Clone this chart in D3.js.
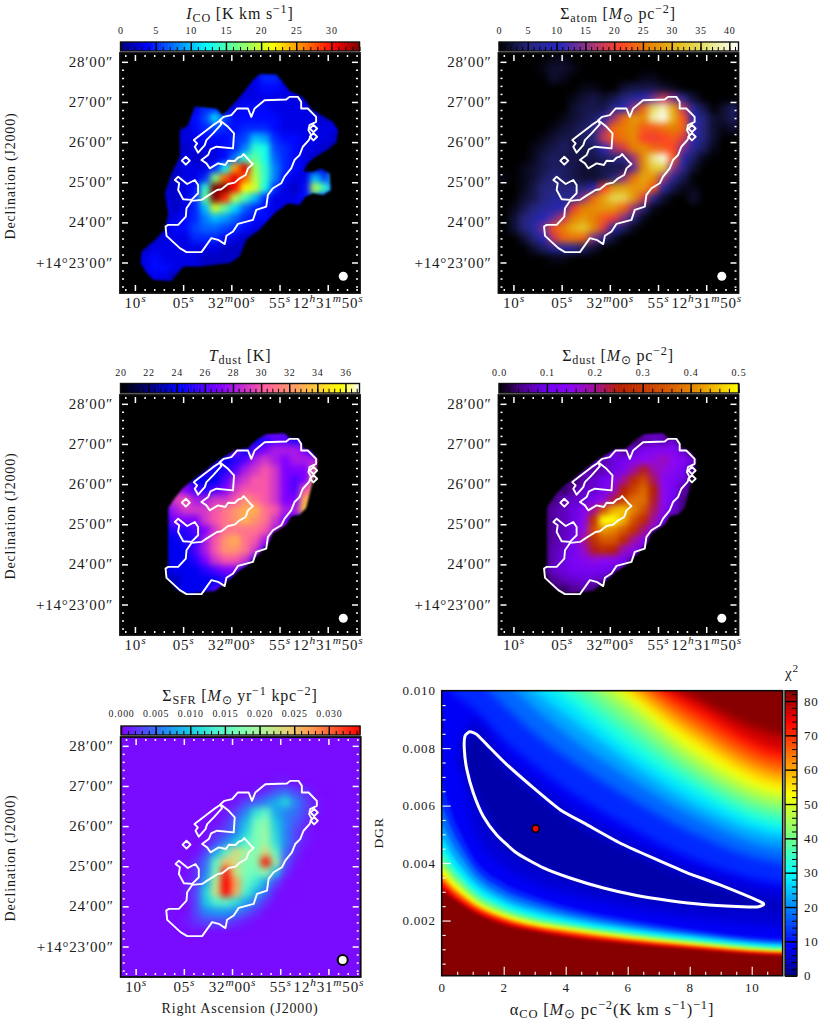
<!DOCTYPE html>
<html lang="en">
<head>
<meta charset="utf-8">
<title>Gas, dust and star formation maps</title>
<script src="https://d3js.org/d3.v7.min.js"></script>
<style>
    body { margin: 0; background: #fff; }
    text { font-family: "Liberation Serif", serif; fill: #1a1a1a; letter-spacing: 0.8px; }
</style>
</head>
<body>
<script>
// map values on a 24 x 24 grid, top row first, trailing empty cells left out
const icoGrid = [
[],[],
[0,0,0,0,0,0,0,0,0,0,0,0,0,3,5,5,2],
[0,0,0,0,0,0,0,0,0,0,0,0,2,3,4,4,3,2],
[0,0,0,0,0,0,0,0,0,0,0,2,3,3,3,3,3,3,2],
[0,0,0,0,0,0,0,3,5,5,3,3,4,4,4,3,3,3,3,2],
[0,0,0,0,0,0,0,4,6,11,6,4,4,4,4,4,3,3,3,3,2],
[0,0,0,0,0,0,2,4,5,6,5,4,5,5,5,4,3,3,3,3,3,3],
[0,0,0,0,0,0,3,3,4,4,4,5,6,10,9,5,4,4,3,3,3,2],
[0,0,0,0,0,0,2,3,3,3,4,5,8,14,13,6,5,4,3,3,2],
[0,0,0,0,0,2,3,2,2,3,4,8,14,16,13,7,5,4,3,2],
[0,0,0,0,0,2,3,3,3,5,12,25,31,18,14,8,5,4,3,2,2],
[0,0,0,0,1,2,3,3,5,17,27,31,27,19,14,8,4,3,3,10,6],
[0,0,0,0,0,2,3,4,14,34,37,30,22,20,13,5,3,2,4,19,14],
[0,0,0,0,0,2,3,5,16,35,29,19,15,10,5,3,3,3,4,8,5],
[0,0,0,0,0,2,3,5,10,20,16,11,7,5,4,3,3,3,3],
[0,0,0,0,2,3,4,5,8,10,9,7,5,4,4,3,1],
[0,0,0,2,3,4,4,6,7,7,6,5,4,3,2],
[0,0,0,2,3,3,3,5,5,5,4,3,2,1],
[0,0,2,3,3,3,3,3,3,3,2,2,2],
[0,0,3,4,3,3,3,3,2,2,2,2],
[0,0,3,4,4,3,3,3,2,2,2],
[0,0,0,3,3,1],
[]
];
const atomGrid = [
[0,0,0,0,0,1,1],
[0,0,0,0,1,2,2,1],
[0,0,0,0,0,2,1,0,0,0,0,0,0,0,1,1],
[0,0,0,0,0,0,0,0,1,1,0,0,2,3,3,3,2,1],
[0,0,0,0,0,0,0,1,2,3,2,3,5,7,10,14,18,14,6,2],
[0,0,0,0,0,0,0,2,3,3,3,6,10,15,24,35,39,29,17,7,3,0,2,4],
[0,0,0,0,0,0,1,2,3,4,8,16,24,28,27,38,41,30,22,10,5,2,2,4],
[0,0,0,0,0,1,2,3,4,6,15,24,26,27,23,23,25,26,24,11,5,2,1,2],
[0,0,0,0,1,2,3,3,4,5,18,23,25,27,21,20,21,23,19,9,5,2],
[0,0,0,1,2,3,4,3,3,4,10,16,19,26,27,24,23,21,14,7,4,1],
[0,0,0,1,3,4,3,3,3,3,4,5,6,16,27,37,41,23,9,4,1],
[0,0,1,2,3,4,4,3,2,2,3,3,3,13,27,33,33,15,6,2],
[1,0,1,2,4,5,4,3,2,2,3,5,15,25,29,27,16,7,3],
[0,0,1,3,5,5,5,5,5,10,21,28,29,28,28,22,8,3,1,1],
[0,0,2,3,5,7,6,7,15,24,29,34,34,28,19,7,2,0,0,2],
[0,1,3,5,7,8,10,20,26,27,28,28,24,16,5,1],
[0,2,5,7,10,13,18,26,28,26,23,20,15,6,1],
[0,2,5,8,14,22,26,30,32,27,19,9,4,1],
[0,0,2,5,10,18,24,25,24,14,6,2],
[0,0,0,2,4,7,8,7,4,2],
[0,0,0,0,0,1,1],
[],[],[]
];
const tdustGrid = [
[],[],[],[],
[0,0,0,0,0,0,0,0,0,0,0,0,0,24,25,26,26,25],
[0,0,0,0,0,0,0,0,0,0,0,0,24,26,27,28,28,28,27,24],
[0,0,0,0,0,0,0,0,0,0,24,25,26,28,29,28,27,28,28,28],
[0,0,0,0,0,0,0,0,0,24,25,26,28,29,30,29,27,27,27,30],
[0,0,0,0,0,0,0,24,24,24,26,28,29,30,30,29,27,26,27,32],
[0,0,0,0,0,0,27,26,25,26,27,29,30,30,30,29,27,26,30],
[0,0,0,0,0,29,30,28,28,29,29,30,32,31,30,29,27,27,33],
[0,0,0,0,26,28,29,29,29,30,31,32,33,33,31,30,28,28,34],
[0,0,0,0,0,27,27,27,29,30,31,32,33,32,31,29,27,26],
[0,0,0,0,0,25,25,26,27,29,31,31,31,31,30,28],
[0,0,0,0,0,24,25,25,28,30,32,33,31,30,28],
[0,0,0,0,0,24,24,26,28,30,32,32,31,29,26],
[0,0,0,0,0,24,24,25,27,29,30,30,29,26],
[0,0,0,0,0,24,24,24,25,26,27,27,25],
[0,0,0,0,0,23,24,24,24,24,25,25],
[0,0,0,0,0,0,24,24,24,26,27],
[],[],[],[]
];
const sdustGrid = [
[],[],[],[],
[0,0,0,0,0,0,0,0,0,0,0,0,0,.03,.05,.07,.06],
[0,0,0,0,0,0,0,0,0,0,0,0,.05,.08,.12,.13,.14,.13,.08,.03],
[0,0,0,0,0,0,0,0,0,0,.06,.09,.1,.13,.15,.16,.18,.15,.13,.08],
[0,0,0,0,0,0,0,0,0,.05,.07,.09,.12,.19,.24,.19,.16,.14,.11,.05],
[0,0,0,0,0,0,0,.03,.06,.08,.1,.14,.2,.27,.33,.22,.14,.12,.09,.03],
[0,0,0,0,0,0,.03,.06,.08,.08,.11,.17,.25,.32,.37,.25,.15,.11,.06],
[0,0,0,0,0,.04,.07,.08,.08,.12,.16,.23,.31,.38,.38,.24,.15,.1,.04],
[0,0,0,0,.03,.06,.07,.09,.13,.2,.34,.44,.46,.4,.34,.22,.14,.08],
[0,0,0,0,.03,.06,.07,.09,.14,.28,.55,.58,.44,.34,.27,.19,.11,.04],
[0,0,0,0,.03,.06,.07,.09,.16,.33,.42,.4,.35,.28,.21,.13,.05],
[0,0,0,0,.03,.06,.07,.1,.2,.28,.35,.35,.27,.2,.14,.06],
[0,0,0,0,.03,.07,.08,.11,.17,.24,.27,.25,.18,.14,.08],
[0,0,0,0,.03,.07,.09,.12,.13,.16,.15,.14,.11,.06],
[0,0,0,0,.04,.08,.09,.11,.11,.11,.1,.09,.05],
[0,0,0,0,.02,.05,.07,.08,.09,.08,.07,.03],
[0,0,0,0,0,0,.03,.05,.05,.04,.02],
[],[],[],[]
];
const sfrGrid = [
[],[],[],[],
[0,0,0,0,0,0,0,0,0,0,0,0,0,0,0,.001,.001],
[0,0,0,0,0,0,0,0,0,0,0,0,0,.001,.002,.004,.005,.003,.002],
[0,0,0,0,0,0,0,0,0,0,0,.001,.003,.004,.006,.008,.011,.006,.003,.001],
[0,0,0,0,0,0,0,0,0,0,.001,.003,.006,.012,.015,.008,.006,.005,.003,.001],
[0,0,0,0,0,0,0,0,0,0,.002,.005,.009,.016,.018,.01,.006,.004,.002],
[0,0,0,0,0,0,0,0,0,.002,.003,.006,.011,.017,.019,.011,.006,.003,.001],
[0,0,0,0,0,0,0,0,0,.003,.006,.01,.014,.017,.019,.012,.006,.003,.001],
[0,0,0,0,0,0,0,0,.003,.008,.015,.023,.02,.017,.023,.015,.005,.002],
[0,0,0,0,0,0,0,.002,.005,.015,.025,.023,.017,.018,.034,.019,.004,.001],
[0,0,0,0,0,0,0,.002,.006,.017,.033,.022,.017,.016,.019,.01,.002],
[0,0,0,0,0,0,.001,.002,.008,.021,.037,.027,.016,.013,.008,.003],
[0,0,0,0,0,0,.001,.003,.011,.022,.036,.026,.014,.009,.005,.001],
[0,0,0,0,0,0,0,.003,.01,.014,.015,.012,.008,.005,.002],
[0,0,0,0,0,0,0,.003,.006,.007,.007,.006,.004,.002],
[0,0,0,0,0,0,.001,.002,.003,.003,.003,.002,.001],
[],[],[],[],[]
];
const sfrBackground = 0.0005;

// edge of the valid data, in map pixels
const icoEdge = [[40,8.2],[42,6.4],[47,6.4],[49,8.7],[51,11.4],[55,13.2],[58,17.2],[64,20.7],[65.6,23.2],[65.2,26.7],[63,28.7],[59,31.2],[56.5,33.2],[55.2,35.7],[58,35.7],[60.5,34.7],[63,36.2],[63.5,41.2],[61.2,42.7],[58,42.2],[55.8,43.2],[54,45.7],[50.5,45.2],[46.5,48.2],[42,53.2],[38,56.2],[36,61.2],[33,63.2],[24,64.2],[19,64.2],[15.5,68.7],[10,68.2],[8,66.2],[6.2,63.2],[6.5,59.7],[10,56.7],[13.5,53.2],[14.5,48.2],[13.5,42.2],[15.5,36.2],[18,31.2],[18,23.2],[20.5,21.7],[22.5,16.2],[29,16.7],[31,18.7],[36,13.2]];
const dustEdge = [[44,11.8],[49.5,11.5],[51,13],[54,13.2],[55,16],[57.5,16.8],[59.5,19.5],[59,22.5],[58,26],[57,30],[56,34],[54,36],[51.5,36.5],[50,39],[46,41.5],[44.5,45],[42,47.5],[40.5,49],[38,51.5],[35.5,53],[33.5,55],[31,57],[28.5,59],[26,59.2],[20,59.8],[17,58.5],[14.5,55.5],[13.7,53],[14.5,51],[14.5,41],[14.5,34],[16.5,31],[19,28],[22,25.5],[26,22.5],[29,20],[31.5,18.5],[35,16.5],[38.5,16],[41,13.5]];

// white outline, in map pixels
const outlineMain = [[13.7,52.2],[14.5,51.7],[17.5,51.7],[19.8,49.2],[20,46.7],[21.5,44.5],[24.5,44.2],[26,43.2],[29.2,41.2],[30.5,41],[32.5,39.4],[34.5,39],[36,37.7],[37.8,36.7],[38.5,34.7],[40,33.4],[39.2,32.7],[37.2,30.4],[36.5,31.2],[35.5,31.5],[34.5,32.5],[32.5,32.4],[31.7,33.7],[29.5,33.2],[27,34.7],[26,33.2],[24.5,32.2],[26.5,30.7],[27.2,29],[29,28.2],[34,28.7],[34.3,24.2],[32.5,22.2],[30,20.2],[31.2,19.2],[33.5,18.7],[35.2,16.7],[38.5,16.7],[39.5,19.2],[40.5,16.7],[43.5,14.2],[50,14],[51,13.2],[53.5,13.2],[54.5,14.7],[54.5,16.7],[56.5,16.7],[59,19.2],[59,20.7],[57,21.7],[56.7,23.2],[57.5,24.7],[56.8,26.2],[55,28.2],[54,30.7],[52.5,32.2],[51.5,34.7],[49.5,37.2],[48.5,39.2],[46,40.7],[44.5,42.7],[44,46.2],[41,47.2],[40,50.2],[35.5,51.4],[34,53.7],[32,55],[31.5,57.5],[29.5,56.2],[27.5,55.7],[24.5,59.9],[20,59.9],[18,58.7],[14,55]];
const outlineBean = [[16.5,38.2],[17.5,37.2],[20.2,39.4],[22.5,38.2],[23.5,39.7],[23.5,42.2],[21.5,44.2],[19,44],[17.5,41.2],[17.8,39.2]];
const outlineLobe = [[22.2,26.2],[28,21.7],[30,20.4],[30.5,21.4],[28,24.2],[26,26.2],[25.5,27.7],[23.5,30],[22.5,28.2],[23.2,27.2]];
const outlineDiamondA = [[19.8,31.2],[21,32.4],[19.8,33.6],[18.6,32.4]];
const outlineDiamondB = [[58.2,21.6],[59.3,22.7],[58.2,23.8],[57.1,22.7]];
const outlineDiamondC = [[58.2,24.1],[59.3,25.2],[58.2,26.3],[57.1,25.2]];

// sky axes: RA in seconds past 12h31m, Dec in arcmin past 14 deg
const raTicks = [70, 65, 60, 55, 50];
const raMinor = [71,69,68,67,66,64,63,62,61,59,58,57,56,54,53,52,51,49,48,47];
const decTicks = [28, 27, 26, 25, 24, 23];
const decMinor = [27.8,27.6,27.4,27.2,26.8,26.6,26.4,26.2,25.8,25.6,25.4,25.2,24.8,24.6,24.4,24.2,23.8,23.6,23.4,23.2,22.8,22.6,22.4];
const raTickLabels = [
    [["10","n"],["s","supi"]],
    [["05","n"],["s","supi"]],
    [["32","n"],["m","supi"],["00","n"],["s","supi"]],
    [["55","n"],["s","supi"]],
    [["12","n"],["h","supi"],["31","n"],["m","supi"],["50","n"],["s","supi"]]
];
const decTickLabels = [
    [["28","n"],["\u2032","prime"],["00","n"],["\u2033","prime"]],
    [["27","n"],["\u2032","prime"],["00","n"],["\u2033","prime"]],
    [["26","n"],["\u2032","prime"],["00","n"],["\u2033","prime"]],
    [["25","n"],["\u2032","prime"],["00","n"],["\u2033","prime"]],
    [["24","n"],["\u2032","prime"],["00","n"],["\u2033","prime"]],
    [["+14","n"],["\u00b0","prime"],["23","n"],["\u2032","prime"],["00","n"],["\u2033","prime"]]
];

// chi-square map: for every level, the DGR (x 1000) below and above which chi2 passes it
const alphaColumns = [-0.3, 0.5, 1, 2, 3, 4, 6, 8, 11.3];
const chiLevels = [80, 75, 70, 65, 60, 55, 50, 45, 40, 35, 30, 25, 20, 15, 10];
const chiLower = [
[3.19,2.66,2.31,1.85,1.62,1.44,1.19,1.00,.78],
[3.33,2.75,2.39,1.93,1.68,1.50,1.24,1.05,.82],
[3.48,2.84,2.47,2.00,1.73,1.56,1.29,1.09,.86],
[3.58,2.93,2.54,2.05,1.78,1.60,1.33,1.12,.88],
[3.69,3.01,2.60,2.10,1.82,1.65,1.37,1.15,.90],
[3.81,3.10,2.66,2.15,1.86,1.69,1.40,1.18,.92],
[3.94,3.19,2.72,2.20,1.91,1.73,1.44,1.21,.95],
[4.10,3.31,2.82,2.27,1.97,1.78,1.49,1.25,.98],
[4.28,3.44,2.92,2.35,2.03,1.84,1.53,1.29,1.01],
[4.50,3.60,3.05,2.44,2.11,1.90,1.58,1.33,1.05],
[4.80,3.77,3.19,2.55,2.20,1.97,1.64,1.38,1.09],
[5.20,4.05,3.40,2.70,2.33,2.08,1.72,1.45,1.14],
[5.70,4.40,3.65,2.87,2.48,2.20,1.81,1.52,1.20],
[6.35,4.80,3.92,3.07,2.65,2.34,1.92,1.60,1.27],
[7.25,5.28,4.23,3.30,2.84,2.50,2.05,1.70,1.35]
];
const chiUpper = [
[18.0,16.7,15.8,14.3,13.3,12.4,11.0,9.85,8.42],
[17.8,16.5,15.6,14.1,13.1,12.2,10.8,9.6,7.9],
[17.6,16.3,15.4,14.0,12.9,12.0,10.7,9.3,7.6],
[17.3,16.1,15.2,13.8,12.7,11.8,10.5,8.95,7.26],
[17.0,15.8,14.9,13.5,12.5,11.7,10.25,8.65,6.97],
[16.8,15.5,14.6,13.2,12.3,11.6,10.0,8.35,6.67],
[16.5,15.2,14.3,13.0,12.0,11.3,9.75,8.0,6.38],
[16.0,14.8,13.9,12.6,11.6,10.9,9.4,7.65,6.1],
[15.5,14.4,13.5,12.2,11.2,10.6,8.95,7.3,5.8],
[15.0,14.0,13.0,11.7,10.9,10.15,8.5,6.95,5.5],
[14.5,13.5,12.6,11.3,10.5,9.7,8.0,6.6,5.2],
[14.0,13.0,12.1,11.0,10.0,9.15,7.55,6.15,4.9],
[13.0,12.2,11.4,10.4,9.4,8.5,7.0,5.7,4.47],
[12.0,11.2,10.6,9.5,8.5,7.7,6.3,5.1,4.0],
[10.5,9.8,9.4,8.3,7.4,6.6,5.3,4.2,3.3]
];
// the valley floor closes inside the frame
const valleyLevels = [7, 4];
const valleyLower = [
[8.2,8.2,5.3,3.9,3.3,2.95,2.45,2.1,1.75],
[7.5,7.5,6.6,4.7,3.95,3.5,2.9,2.6,2.4]
];
const valleyUpper = [
[8.2,8.2,9.0,7.8,6.9,6.1,4.9,3.9,2.9],
[7.5,7.5,8.5,7.3,6.4,5.6,4.4,3.5,2.4]
];
const chiTop = 83;
const bestAlpha = 3.03;
const bestDgr = 5.2;
const fitAlpha = [.91,.75,.73,.81,1.02,1.34,1.77,2.42,3.28,4.14,5.22,6.29,7.37,8.44,9.52,10.16,10.38,10.27,8.98,7.9,6.83,5.75,4.68,3.82,2.96,2.1,1.45,1.13];
const fitDgr = [8.57,8.42,7.95,7.26,6.44,5.63,4.99,4.35,3.83,3.48,3.13,2.87,2.69,2.56,2.49,2.47,2.55,2.66,3.24,3.67,4.17,4.7,5.34,5.86,6.62,7.43,8.13,8.48];
const alphaTicks = [0, 2, 4, 6, 8, 10];
const alphaMinor = [.5,1,1.5,2.5,3,3.5,4.5,5,5.5,6.5,7,7.5,8.5,9,9.5,10.5];
const dgrTicks = [2, 4, 6, 8, 10];
const dgrMinor = [.5,1,1.5,2.5,3,3.5,4.5,5,5.5,6.5,7,7.5,8.5,9,9.5];
const dgrTickLabels = ["0.002", "0.004", "0.006", "0.008", "0.010"];

// colormaps, [position, colour]
const jetStops = [[0,"#000080"],[.11,"#0000ff"],[.36,"#00ffff"],[.5,"#7dff7a"],[.64,"#ffff00"],[.89,"#ff0000"],[1,"#800000"]];
const cmrStops = [[0,"#000000"],[.125,"#262680"],[.25,"#2626bf"],[.375,"#993380"],[.5,"#ff4026"],[.625,"#e68000"],[.75,"#e6bf1a"],[.875,"#e6e680"],[1,"#ffffff"]];
const gnuplot2Stops = [[0,"#000000"],[.25,"#0000ff"],[.42,"#8700ff"],[.6,"#ff5ca3"],[.8,"#ffc23d"],[.92,"#ffff00"],[1,"#ffffff"]];
const gnuplotStops = [[0,"#000000"],[.1,"#520096"],[.2,"#7202f2"],[.3,"#8c07f2"],[.4,"#a10f96"],[.5,"#b52000"],[.6,"#c53700"],[.7,"#d65700"],[.8,"#e38200"],[.9,"#f2ba00"],[1,"#ffff00"]];
const rainbowStops = [[0,"#8000ff"],[.1,"#4d4ffc"],[.2,"#1a96f2"],[.3,"#1acfe3"],[.4,"#4df2cf"],[.5,"#80ffb5"],[.6,"#b3f296"],[.7,"#e6cf73"],[.8,"#ff964f"],[.9,"#ff4f29"],[1,"#ff0000"]];

function colormap(stops, vmin, vmax) {
    return d3.scaleLinear()
        .domain(stops.map(s => vmin + (vmax - vmin) * s[0]))
        .range(stops.map(s => s[1]))
        .clamp(true);
}

const svg = d3.select("body").append("svg")
    .attr("width", 830)
    .attr("height", 1030);

const defs = svg.append("defs");
function addBlur(id, sd) {
    defs.append("filter").attr("id", id)
        .attr("x", "-10%").attr("y", "-10%").attr("width", "120%").attr("height", "120%")
        .attr("color-interpolation-filters", "sRGB")
        .append("feGaussianBlur").attr("stdDeviation", sd);
}
addBlur("blurSoft", 3.5);
addBlur("blurMask", 3.2);
addBlur("blurEdge", 0.8);
addBlur("blurChiWide", 4);
addBlur("blurChiNarrow", 1.7);

// text with sub and superscripts
function richText(sel, parts, size) {
    let shift = 0;
    parts.forEach(p => {
        const kind = p[1];
        const small = kind === "sup" || kind === "supi" || kind === "sub";
        const target = kind.startsWith("sup") ? -size * 0.38 : (kind === "sub" ? size * 0.2 : 0);
        sel.append("tspan")
            .attr("dy", target - shift)
            .style("font-size", (small ? size * 0.76 : size) + "px")
            .style("font-style", kind === "i" || kind === "supi" ? "italic" : "normal")
            .text(p[0]);
        shift = target;
    });
}

function addText(x, y, parts, size, anchor, rotate) {
    const t = svg.append("text")
        .attr("text-anchor", anchor || "middle")
        .attr("transform", "translate(" + x + "," + y + ")" + (rotate ? " rotate(" + rotate + ")" : ""));
    richText(t, parts, size);
    return t;
}

// horizontal colour bar with black ticks inside
function colorbar(opt) {
    const x = d3.scaleLinear().domain([opt.vmin, opt.vmax]).range([opt.x0, opt.x1]);
    const g = svg.append("g");
    const h = opt.h;
    const steps = d3.range(0, 160);
    const w = (opt.x1 - opt.x0) / steps.length;
    g.selectAll("rect.step").data(steps).join("rect")
        .attr("x", i => opt.x0 + i * w)
        .attr("y", opt.y)
        .attr("width", w + 0.6)
        .attr("height", h)
        .attr("fill", i => opt.cmap(opt.vmin + (opt.vmax - opt.vmin) * (i + 0.5) / steps.length));

    const bottom = g.append("g").attr("transform", "translate(0," + (opt.y + h) + ")");
    bottom.append("g").call(d3.axisTop(x).tickValues(opt.minor).tickSize(h * 0.45).tickFormat(""))
        .call(a => a.select(".domain").remove())
        .selectAll("line").attr("stroke", "#000").attr("stroke-width", 1);
    bottom.append("g").call(d3.axisTop(x).tickValues(opt.major).tickSize(h).tickFormat(""))
        .call(a => a.select(".domain").remove())
        .selectAll("line").attr("stroke", "#000").attr("stroke-width", 1.4);

    const labels = g.append("g").attr("transform", "translate(0," + opt.y + ")")
        .call(d3.axisTop(x).tickValues(opt.major).tickSize(0).tickFormat((d, i) => opt.labels[i]));
    labels.select(".domain").remove();
    labels.selectAll("text")
        .attr("y", opt.labelY - opt.y).attr("dy", 0)
        .style("font-size", opt.labelSize + "px")
        .style("font-family", "\"Liberation Serif\", serif");

    g.append("rect")
        .attr("x", opt.x0).attr("y", opt.y)
        .attr("width", opt.x1 - opt.x0).attr("height", h)
        .attr("fill", "none").attr("stroke", "#111").attr("stroke-width", 1.4);
}

// one sky map
function skyMap(opt) {
    const size = 240;
    const g = svg.append("g").attr("transform", "translate(" + opt.x + "," + opt.y + ")");
    const gridX = d3.scaleLinear().domain([0, 24]).range([0, size]);
    const gridY = d3.scaleLinear().domain([0, 24]).range([0, size]);
    const pixX = d3.scaleLinear().domain([0, 72.2]).range([0, size]);
    const pixY = d3.scaleLinear().domain([0, 72.2]).range([0, size]);
    const ra = d3.scaleLinear().domain([71.55, 46.65]).range([0, size]);
    const dec = d3.scaleLinear().domain([28.22, 22.24]).range([0, size]);
    const line = d3.line().x(d => pixX(d[0])).y(d => pixY(d[1])).curve(d3.curveLinearClosed);

    const clipId = "clip" + opt.id;
    g.append("clipPath").attr("id", clipId)
        .append("rect").attr("width", size).attr("height", size);

    g.append("rect").attr("width", size).attr("height", size).attr("fill", opt.background);

    const cells = [];
    opt.grid.forEach((row, r) => row.forEach((v, c) => { if (v) cells.push({ r: r, c: c, v: v }); }));
    const image = g.append("g").attr("clip-path", "url(#" + clipId + ")");
    let target = image;
    if (opt.edge) {
        // data stop at a sharp edge, so the colour is carried past it and cut there
        const maskId = "mask" + opt.id;
        g.append("mask").attr("id", maskId)
            .attr("maskUnits", "userSpaceOnUse")
            .attr("x", 0).attr("y", 0).attr("width", size).attr("height", size)
            .append("path").attr("d", line(opt.edge))
            .attr("fill", "#fff").attr("filter", "url(#blurEdge)");
        target = image.append("g").attr("mask", "url(#" + maskId + ")");
    }
    const blurred = target.append("g").attr("filter", "url(#" + opt.blur + ")");
    if (opt.edge) {
        blurred.selectAll("rect.halo").data(cells).join("rect")
            .attr("class", "halo")
            .attr("x", d => gridX(d.c))
            .attr("y", d => gridY(d.r))
            .attr("width", gridX(1))
            .attr("height", gridY(1))
            .attr("fill", d => opt.cmap(d.v))
            .attr("stroke", d => opt.cmap(d.v))
            .attr("stroke-width", 24);
    }
    blurred.selectAll("rect.cell").data(cells).join("rect")
        .attr("class", "cell")
        .attr("x", d => gridX(d.c))
        .attr("y", d => gridY(d.r))
        .attr("width", gridX(1) + 0.5)
        .attr("height", gridY(1) + 0.5)
        .attr("fill", d => opt.cmap(d.v));

    g.selectAll("path.outline")
        .data([outlineMain, outlineBean, outlineLobe, outlineDiamondA, outlineDiamondB, outlineDiamondC])
        .join("path")
        .attr("class", "outline")
        .attr("d", line)
        .attr("fill", "none")
        .attr("stroke", "#fff")
        .attr("stroke-width", 1.9)
        .attr("stroke-linejoin", "round");

    // inward white ticks on all four sides
    function ticks(axis, scale, minorValues, majorValues, transform) {
        const a = g.append("g").attr("transform", transform);
        a.append("g").call(axis(scale).tickValues(minorValues).tickSize(-2).tickFormat(""))
            .call(s => s.select(".domain").remove())
            .selectAll("line").attr("stroke", "#fff").attr("stroke-width", 1.5);
        a.append("g").call(axis(scale).tickValues(majorValues).tickSize(-6).tickFormat(""))
            .call(s => s.select(".domain").remove())
            .selectAll("line").attr("stroke", "#fff").attr("stroke-width", 1.5);
    }
    ticks(d3.axisBottom, ra, raMinor, raTicks, "translate(0," + (size - 2) + ")");
    ticks(d3.axisTop, ra, raMinor, raTicks, "translate(0,2)");
    ticks(d3.axisLeft, dec, decMinor, decTicks, "translate(2,0)");
    ticks(d3.axisRight, dec, decMinor, decTicks, "translate(" + (size - 2) + ",0)");

    // tick labels
    const xLabels = g.append("g").attr("transform", "translate(0," + size + ")")
        .call(d3.axisBottom(ra).tickValues(raTicks).tickSize(0).tickFormat(""));
    xLabels.select(".domain").remove();
    xLabels.selectAll("text").each(function (d, i) {
        const t = d3.select(this).attr("y", 15).attr("dy", null);
        richText(t, raTickLabels[i], 15);
    });
    const yLabels = g.append("g")
        .call(d3.axisLeft(dec).tickValues(decTicks).tickSize(0).tickFormat(""));
    yLabels.select(".domain").remove();
    yLabels.selectAll("text").each(function (d, i) {
        const t = d3.select(this).attr("x", -7).attr("y", 4.6).attr("dy", null);
        richText(t, decTickLabels[i], 15);
    });

    // beam
    g.append("circle")
        .attr("cx", opt.beamX).attr("cy", opt.beamY).attr("r", opt.beamR)
        .attr("fill", "#fff")
        .attr("stroke", opt.beamStroke ? "#000" : "none")
        .attr("stroke-width", 2);

    g.append("rect").attr("width", size).attr("height", size)
        .attr("fill", "none").attr("stroke", "#0a0a0a").attr("stroke-width", 1.8);
}

// ---- the five maps
const icoCmap = colormap(jetStops, 0, 34);
const atomCmap = colormap(cmrStops, 0, 41.6);
const tdustCmap = colormap(gnuplot2Stops, 20, 37);
const sdustCmap = colormap(gnuplotStops, 0, 0.5);
const sfrCmap = colormap(rainbowStops, 0, 0.0345);

skyMap({ id: 1, x: 120, y: 53, grid: icoGrid, cmap: icoCmap, background: "#000", blur: "blurMask", edge: icoEdge, beamX: 223.3, beamY: 223.3, beamR: 4.5 });
skyMap({ id: 2, x: 498.5, y: 53, grid: atomGrid, cmap: atomCmap, background: "#000", blur: "blurSoft", beamX: 223.3, beamY: 223.3, beamR: 4.5 });
skyMap({ id: 3, x: 120, y: 395, grid: tdustGrid, cmap: tdustCmap, background: "#000", blur: "blurMask", edge: dustEdge, beamX: 223.3, beamY: 223.3, beamR: 4.5 });
skyMap({ id: 4, x: 498.5, y: 395, grid: sdustGrid, cmap: sdustCmap, background: "#000", blur: "blurMask", edge: dustEdge, beamX: 223.3, beamY: 223.3, beamR: 4.5 });
skyMap({ id: 5, x: 120.7, y: 737, grid: sfrGrid, cmap: sfrCmap, background: sfrCmap(sfrBackground), blur: "blurSoft", beamX: 222, beamY: 223, beamR: 5, beamStroke: true });

function steps(a, b, s) {
    // tick positions for the colour bars
    return d3.range(0, Math.floor((b - a) / s + 0.001) + 1).map(i => a + i * s);
}

colorbar({ x0: 120.5, x1: 359.5, y: 42, h: 9, vmin: 0, vmax: 34, cmap: icoCmap, major: [0,5,10,15,20,25,30], minor: steps(0,34,1), labels: ["0","5","10","15","20","25","30"], labelY: 34, labelSize: 10 });
colorbar({ x0: 499, x1: 738.5, y: 42, h: 9, vmin: 0, vmax: 41.6, cmap: atomCmap, major: [0,5,10,15,20,25,30,35,40], minor: steps(0,41,1), labels: ["0","5","10","15","20","25","30","35","40"], labelY: 34, labelSize: 10 });
colorbar({ x0: 120.5, x1: 359.5, y: 383.5, h: 9.5, vmin: 20, vmax: 37, cmap: tdustCmap, major: [20,22,24,26,28,30,32,34,36], minor: steps(20,37,0.4), labels: ["20","22","24","26","28","30","32","34","36"], labelY: 376, labelSize: 10 });
colorbar({ x0: 499, x1: 738.5, y: 383.5, h: 9.5, vmin: 0, vmax: 0.5, cmap: sdustCmap, major: [0,.1,.2,.3,.4,.5], minor: steps(0,0.5,0.02), labels: ["0.0","0.1","0.2","0.3","0.4","0.5"], labelY: 376, labelSize: 10 });
colorbar({ x0: 121, x1: 360, y: 726, h: 9, vmin: 0, vmax: 0.0345, cmap: sfrCmap, major: [0,.005,.01,.015,.02,.025,.03], minor: steps(0,0.034,0.001), labels: ["0.000","0.005","0.010","0.015","0.020","0.025","0.030"], labelY: 717, labelSize: 9.8 });

// ---- titles
addText(240, 19, [["I","i"],["CO","sub"],[" [K km s","n"],["\u22121","sup"],["]","n"]], 16);
addText(618, 19, [["\u03a3","n"],["atom","sub"],[" [","n"],["M","i"],["\u2299","sub"],[" pc","n"],["\u22122","sup"],["]","n"]], 16);
addText(240, 361, [["T","i"],["dust","sub"],[" [K]","n"]], 16);
addText(618, 361, [["\u03a3","n"],["dust","sub"],[" [","n"],["M","i"],["\u2299","sub"],[" pc","n"],["\u22122","sup"],["]","n"]], 16);
addText(240, 701, [["\u03a3","n"],["SFR","sub"],[" [","n"],["M","i"],["\u2299","sub"],[" yr","n"],["\u22121","sup"],[" kpc","n"],["\u22122","sup"],["]","n"]], 16);

addText(15, 176, [["Declination (J2000)","n"]], 14, "middle", -90);
addText(15, 516, [["Declination (J2000)","n"]], 14, "middle", -90);
addText(15, 858, [["Declination (J2000)","n"]], 14, "middle", -90);
addText(240, 1013, [["Right Ascension (J2000)","n"]], 14);

// ---- chi-square panel
const chiLeft = 441.7, chiRight = 782.7, chiTopY = 690.7, chiBottom = 975.7;
const xAlpha = d3.scaleLinear().domain([0, 11]).range([chiLeft, chiRight]);
const yDgr = d3.scaleLinear().domain([0.08, 10]).range([chiBottom, chiTopY]);
const chiCmap = colormap(jetStops, 0, chiTop);

const chiG = svg.append("g");
svg.append("clipPath").attr("id", "clipChi").append("rect")
    .attr("x", chiLeft).attr("y", chiTopY)
    .attr("width", chiRight - chiLeft).attr("height", chiBottom - chiTopY);
chiG.append("rect")
    .attr("x", chiLeft).attr("y", chiTopY)
    .attr("width", chiRight - chiLeft).attr("height", chiBottom - chiTopY)
    .attr("fill", chiCmap(8.5));

// the curve runs flat past both ends so the blur has something to work on there
function withEnds(rowValues) {
    const pts = alphaColumns.map((a, j) => [xAlpha(a), rowValues[j]]);
    return [[xAlpha(-2), rowValues[0]]].concat(pts, [[xAlpha(13), rowValues[rowValues.length - 1]]]);
}
const chiClip = chiG.append("g").attr("clip-path", "url(#clipChi)");
const aboveArea = d3.area().x(d => d[0]).y0(d => yDgr(d[1])).y1(chiTopY - 60).curve(d3.curveMonotoneX);
const belowArea = d3.area().x(d => d[0]).y0(d => yDgr(d[1])).y1(chiBottom + 60).curve(d3.curveMonotoneX);
const order = chiLevels.map((l, i) => i).reverse();

chiClip.append("g").attr("filter", "url(#blurChiWide)")
    .selectAll("path").data(order).join("path")
    .attr("d", i => aboveArea(withEnds(chiUpper[i])))
    .attr("fill", i => chiCmap(chiLevels[i] + 2.5));
chiClip.append("g").attr("filter", "url(#blurChiNarrow)")
    .selectAll("path").data(order).join("path")
    .attr("d", i => belowArea(withEnds(chiLower[i])))
    .attr("fill", i => chiCmap(chiLevels[i] + 2.5));

const valleyArea = d3.area()
    .x(d => xAlpha(d.a)).y0(d => yDgr(d.lo)).y1(d => yDgr(d.hi))
    .curve(d3.curveMonotoneX);
chiClip.append("g").attr("filter", "url(#blurChiWide)")
    .selectAll("path").data(valleyLevels).join("path")
    .attr("d", (level, i) => valleyArea(alphaColumns.map((a, j) => ({ a: a, lo: valleyLower[i][j], hi: valleyUpper[i][j] }))))
    .attr("fill", level => chiCmap(level - 1));

const fitLine = d3.line().x(d => xAlpha(d[0])).y(d => yDgr(d[1])).curve(d3.curveCardinalClosed.tension(0.4));
chiG.append("path")
    .attr("d", fitLine(fitAlpha.map((a, i) => [a, fitDgr[i]])))
    .attr("fill", "none").attr("stroke", "#fff").attr("stroke-width", 3);

chiG.append("circle")
    .attr("cx", xAlpha(bestAlpha)).attr("cy", yDgr(bestDgr)).attr("r", 3.6)
    .attr("fill", "#f00").attr("stroke", "#000").attr("stroke-width", 1.6);

function chiTicks(axis, scale, minor, major, transform) {
    const a = chiG.append("g").attr("transform", transform);
    a.append("g").call(axis(scale).tickValues(minor).tickSize(-4).tickFormat(""))
        .call(s => s.select(".domain").remove())
        .selectAll("line").attr("stroke", "#fff").attr("stroke-width", 1.1);
    a.append("g").call(axis(scale).tickValues(major).tickSize(-9).tickFormat(""))
        .call(s => s.select(".domain").remove())
        .selectAll("line").attr("stroke", "#fff").attr("stroke-width", 1.1);
}
chiTicks(d3.axisBottom, xAlpha, alphaMinor, alphaTicks.slice(1), "translate(0," + chiBottom + ")");
chiTicks(d3.axisLeft, yDgr, dgrMinor, dgrTicks.slice(0, 4), "translate(" + chiLeft + ",0)");

const alphaAxis = chiG.append("g").attr("transform", "translate(0," + chiBottom + ")")
    .call(d3.axisBottom(xAlpha).tickValues(alphaTicks).tickSize(0).tickFormat(d3.format("d")));
alphaAxis.select(".domain").remove();
alphaAxis.selectAll("text").attr("y", 16).attr("dy", 0)
    .style("font-size", "13px").style("font-family", "\"Liberation Serif\", serif");

const dgrAxis = chiG.append("g").attr("transform", "translate(" + chiLeft + ",0)")
    .call(d3.axisLeft(yDgr).tickValues(dgrTicks).tickSize(0).tickFormat((d, i) => dgrTickLabels[i]));
dgrAxis.select(".domain").remove();
dgrAxis.selectAll("text").attr("x", -6).attr("dy", "0.32em")
    .style("font-size", "13px").style("font-family", "\"Liberation Serif\", serif");

chiG.append("rect")
    .attr("x", chiLeft).attr("y", chiTopY)
    .attr("width", chiRight - chiLeft).attr("height", chiBottom - chiTopY)
    .attr("fill", "none").attr("stroke", "#0a0a0a").attr("stroke-width", 1.6);

addText(383, 833, [["DGR","n"]], 13.5, "middle", -90);
addText(612, 1015, [["\u03b1","n"],["CO","sub"],[" [","n"],["M","i"],["\u2299","sub"],[" pc","n"],["\u22122","sup"],["(K km s","n"],["\u22121","sup"],[")","n"],["\u22121","sup"],["]","n"]], 16.5);
addText(792, 678, [["\u03c7","n"],["2","sup"]], 15);

// vertical colour bar of the chi-square panel
const chiBarTicks = [0, 10, 20, 30, 40, 50, 60, 70, 80];
const chiBarMinor = steps(0, 82, 2);
const chiBarX0 = 785, chiBarX1 = 797;
const yChi = d3.scaleLinear().domain([0, chiTop]).range([chiBottom, chiTopY]);
const chiBar = svg.append("g");
chiBar.selectAll("rect").data(d3.range(0, 166)).join("rect")
    .attr("x", chiBarX0)
    .attr("y", i => yChi((i + 1) / 2))
    .attr("width", chiBarX1 - chiBarX0)
    .attr("height", yChi(0) - yChi(0.5) + 0.6)
    .attr("fill", i => chiCmap((i + 0.5) / 2));
const barInside = chiBar.append("g").attr("transform", "translate(" + chiBarX1 + ",0)");
barInside.append("g").call(d3.axisLeft(yChi).tickValues(chiBarMinor).tickSize(5).tickFormat(""))
    .call(s => s.select(".domain").remove())
    .selectAll("line").attr("stroke", "#000");
barInside.append("g").call(d3.axisLeft(yChi).tickValues(chiBarTicks).tickSize(chiBarX1 - chiBarX0).tickFormat(""))
    .call(s => s.select(".domain").remove())
    .selectAll("line").attr("stroke", "#000").attr("stroke-width", 1.4);
const barLabels = chiBar.append("g").attr("transform", "translate(" + chiBarX1 + ",0)")
    .call(d3.axisRight(yChi).tickValues(chiBarTicks).tickSize(0).tickFormat(d3.format("d")));
barLabels.select(".domain").remove();
barLabels.selectAll("text").attr("x", 7).attr("dy", "0.32em")
    .style("font-size", "13px").style("font-family", "\"Liberation Serif\", serif");
chiBar.append("rect")
    .attr("x", chiBarX0).attr("y", chiTopY)
    .attr("width", chiBarX1 - chiBarX0).attr("height", chiBottom - chiTopY)
    .attr("fill", "none").attr("stroke", "#111").attr("stroke-width", 1.4);
</script>
</body>
</html>
